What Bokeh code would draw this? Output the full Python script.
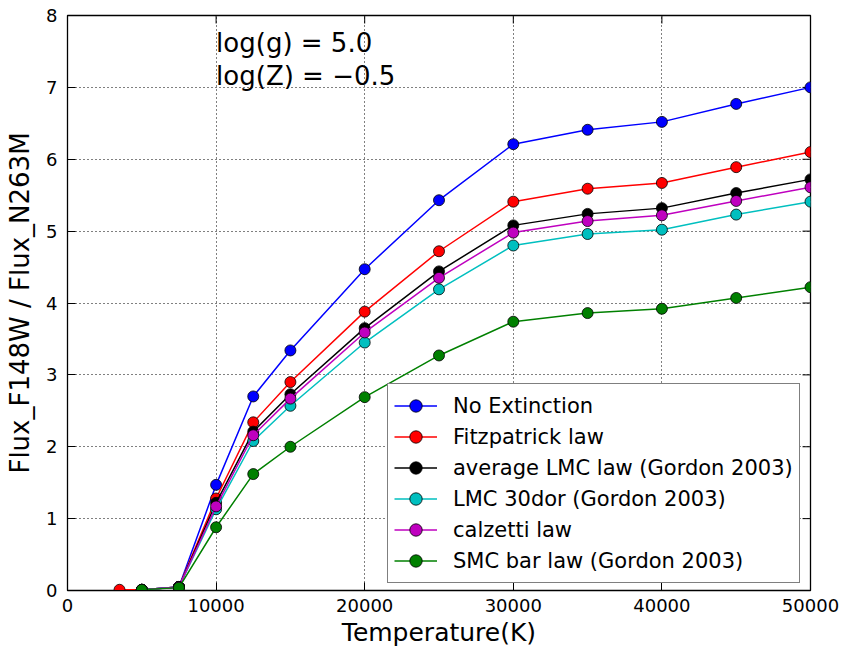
from bokeh.plotting import figure
from bokeh.models import Label, Range1d, FixedTicker
from bokeh.embed import file_html
from bokeh.resources import INLINE

temps_fitz = [3500, 5000, 7500, 10000, 12500, 15000, 20000, 25000, 30000, 35000, 40000, 45000, 50000]
temps = [5000, 7500, 10000, 12500, 15000, 20000, 25000, 30000, 35000, 40000, 45000, 50000]

no_ext = [0.01, 0.05, 1.47, 2.70, 3.34, 4.47, 5.43, 6.21, 6.41, 6.52, 6.77, 7.00]
fitz = [0.01, 0.01, 0.05, 1.28, 2.34, 2.90, 3.88, 4.72, 5.41, 5.59, 5.67, 5.89, 6.10]
lmc_avg = [0.01, 0.05, 1.22, 2.21, 2.73, 3.65, 4.44, 5.08, 5.24, 5.32, 5.53, 5.72]
lmc_30dor = [0.01, 0.05, 1.13, 2.08, 2.57, 3.45, 4.19, 4.80, 4.96, 5.02, 5.23, 5.41]
calzetti = [0.01, 0.05, 1.17, 2.16, 2.67, 3.59, 4.35, 4.98, 5.14, 5.22, 5.42, 5.61]
smc_bar = [0.01, 0.04, 0.88, 1.62, 2.00, 2.69, 3.27, 3.74, 3.86, 3.92, 4.07, 4.22]

series = [
    ("No Extinction", temps, no_ext, "#0000ff"),
    ("Fitzpatrick law", temps_fitz, fitz, "#ff0000"),
    ("average LMC law (Gordon 2003)", temps, lmc_avg, "#000000"),
    ("LMC 30dor (Gordon 2003)", temps, lmc_30dor, "#00bfbf"),
    ("calzetti law", temps, calzetti, "#bf00bf"),
    ("SMC bar law (Gordon 2003)", temps, smc_bar, "#008000"),
]

x_ticks = [0, 10000, 20000, 30000, 40000, 50000]
y_ticks = [0, 1, 2, 3, 4, 5, 6, 7, 8]
X_MAX = 50000
Y_MAX = 8

FONT = "DejaVu Sans"
TICK_PX = 8

p = figure(width=844, height=655, output_backend="svg", toolbar_location=None,
           x_range=Range1d(0, X_MAX), y_range=Range1d(0, Y_MAX),
           min_border_left=67, min_border_right=34, min_border_top=15, min_border_bottom=65)
p.background_fill_color = "white"
p.border_fill_color = "white"
p.outline_line_color = "black"
p.outline_line_width = 1.3

for ax in (p.xaxis[0], p.yaxis[0]):
    ax.major_tick_in = TICK_PX
    ax.major_tick_out = 0
    ax.minor_tick_in = 0
    ax.minor_tick_out = 0
    ax.axis_line_color = "black"
    ax.major_tick_line_color = "black"
    ax.major_label_text_font = FONT
    ax.major_label_text_font_size = "18px"
    ax.major_label_text_color = "black"
    ax.axis_label_text_font = FONT
    ax.axis_label_text_font_style = "normal"
    ax.axis_label_text_color = "black"

p.xaxis[0].ticker = FixedTicker(ticks=x_ticks)
p.yaxis[0].ticker = FixedTicker(ticks=y_ticks)
p.xaxis[0].axis_label = "Temperature(K)"
p.xaxis[0].axis_label_text_font_size = "25px"
p.xaxis[0].major_label_standoff = 8
p.xaxis[0].axis_label_standoff = 3
p.yaxis[0].axis_label = "Flux_F148W / Flux_N263M"
p.yaxis[0].axis_label_text_font_size = "26px"
p.yaxis[0].major_label_standoff = 10
p.yaxis[0].axis_label_standoff = 8

p.xgrid.ticker = FixedTicker(ticks=x_ticks)
p.ygrid.ticker = FixedTicker(ticks=y_ticks)
for g in (p.xgrid[0], p.ygrid[0]):
    g.grid_line_color = "black"
    g.grid_line_dash = "1 3"
    g.grid_line_width = 1

# inward ticks on the top and right edges (matplotlib classic style)
frame_w = 844 - 67 - 34
frame_h = 655 - 15 - 65
dy = TICK_PX * Y_MAX / frame_h
dx = TICK_PX * X_MAX / frame_w
p.segment(x0=x_ticks, x1=x_ticks, y0=[Y_MAX] * len(x_ticks), y1=[Y_MAX - dy] * len(x_ticks),
          line_color="black", line_width=1)
p.segment(x0=[X_MAX] * len(y_ticks), x1=[X_MAX - dx] * len(y_ticks), y0=y_ticks, y1=y_ticks,
          line_color="black", line_width=1)

for name, xs, ys, col in series:
    p.line(xs, ys, line_color=col, line_width=1.5, legend_label=name)
    p.scatter(xs, ys, size=11, fill_color=col, line_color="black", line_width=0.8,
              legend_label=name)

lg = p.legend[0]
lg.location = (320, 7)
lg.margin = 0
lg.padding = 6
lg.spacing = 0
lg.glyph_width = 43
lg.glyph_height = 31
lg.label_height = 31
lg.label_standoff = 16
lg.label_text_font = FONT
lg.label_text_font_size = "21px"
lg.label_text_color = "black"
lg.border_line_color = "black"
lg.border_line_width = 1.3
lg.background_fill_alpha = 1

p.add_layout(Label(x=10000, y=7.62, text="log(g) = 5.0", text_font=FONT,
                   text_font_size="26px", text_color="black", text_baseline="alphabetic"))
p.add_layout(Label(x=10000, y=7.16, text="log(Z) = \u22120.5", text_font=FONT,
                   text_font_size="26px", text_color="black", text_baseline="alphabetic"))

open("out.html", "w").write(file_html(p, INLINE))
